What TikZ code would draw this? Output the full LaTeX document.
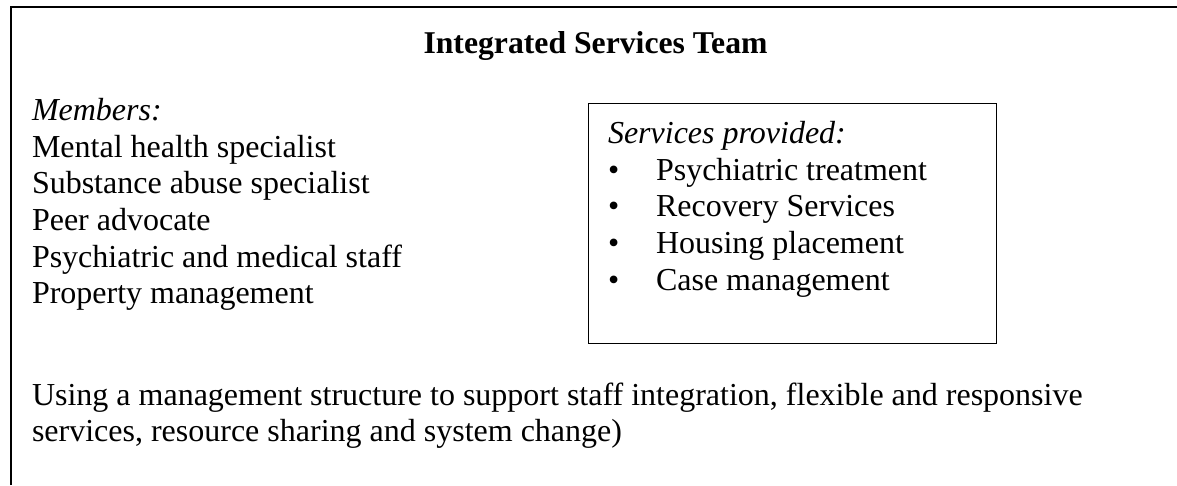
\documentclass[tikz,border=0pt]{standalone}
\usepackage{fontspec}
\setmainfont{Liberation Serif}
\begin{document}
\begin{tikzpicture}[x=1pt,y=-1pt,
  txt/.style={anchor=base west,inner sep=0pt,outer sep=0pt,font=\fontsize{32}{36.6}\selectfont},
  ttl/.style={anchor=base,inner sep=0pt,outer sep=0pt,font=\fontsize{31.7}{36.6}\selectfont\bfseries},
  outerline/.style={line width=2pt,black},
  innerbox/.style={draw,line width=1.4pt,black}]
\useasboundingbox (0,0) rectangle (1177,485);
% outer frame (open at right and bottom, running off the page)
\coordinate (ob) at (11,485);
\coordinate (otl) at (11,7);
\coordinate (otr) at (1177,7);
\draw[outerline] (ob) -- (otl) -- (otr);
% title
\node[ttl] (title) at (595.5,53) {Integrated Services Team};
% members list
\node[txt] (mem) at (32,120) {\itshape Members:};
\node[txt] (m1) at (32,157) {Mental health specialist};
\node[txt] (m2) at (32,193) {Substance abuse specialist};
\node[txt] (m3) at (32,230) {Peer advocate};
\node[txt] (m4) at (32,267) {Psychiatric and medical staff};
\node[txt] (m5) at (32,303) {Property management};
% services box
\node[innerbox,inner sep=0pt,minimum width=408pt,minimum height=240pt,anchor=north west] (sbox) at (588,103) {};
\node[txt] (sv) at (608,143) {\itshape Services provided:};
\node[txt] (b1) at (608,180) {•};
\node[txt] (s1) at (656,180) {Psychiatric treatment};
\node[txt] (b2) at (608,216) {•};
\node[txt] (s2) at (656,216) {Recovery Services};
\node[txt] (b3) at (608,253) {•};
\node[txt] (s3) at (656,253) {Housing placement};
\node[txt] (b4) at (608,290) {•};
\node[txt] (s4) at (656,290) {Case management};
% bottom text
\node[txt] (u1) at (32,405) {Using a management structure to support staff integration, flexible and responsive};
\node[txt] (u2) at (32,441) {services, resource sharing and system change)};
\end{tikzpicture}
\end{document}
